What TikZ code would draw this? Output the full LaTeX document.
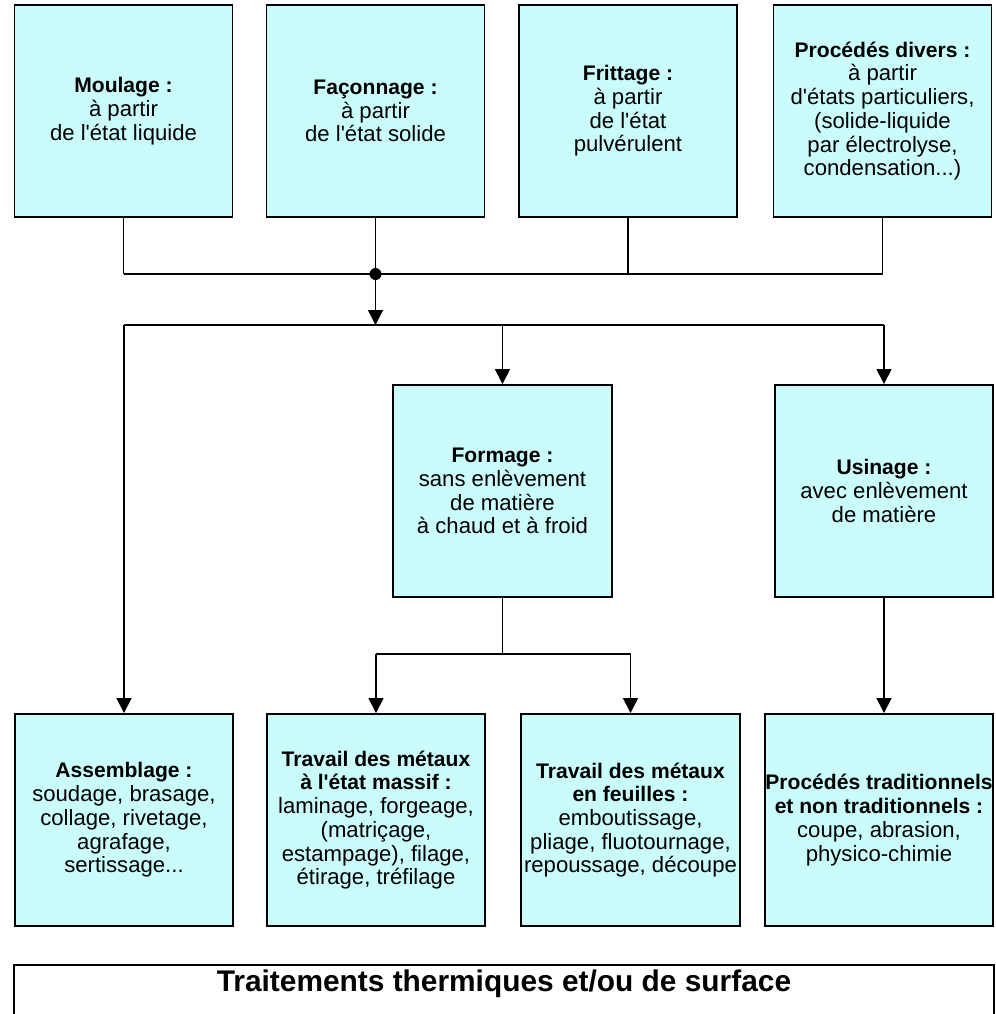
\documentclass[tikz,border=0pt]{standalone}
\usepackage{fontspec}
\setmainfont{Liberation Sans}[Ligatures=TeXOff]
\usetikzlibrary{arrows.meta}

\definecolor{boxcyan}{RGB}{202,252,252}
\newcommand\hd[1]{{\fontsize{12}{13.5}\selectfont\bfseries #1}}

\tikzset{
  procbox/.style={draw, line width=1.1pt, fill=boxcyan, align=center,
    minimum width=4.36cm, minimum height=4.24cm, inner sep=1pt,
    font=\fontsize{12.6}{13.5}\selectfont},
  link/.style={line width=0.8pt},
  arr/.style={link, -{Triangle[width=0.3cm, length=0.3cm]}}
}

\begin{document}
\begin{tikzpicture}[x=0.02cm, y=-0.02cm]
            \useasboundingbox (0,0) rectangle (996,1014);

            % Top row: starting states
            \node[procbox] (moul) at (123.5,111) {\hd{Moulage :}\\à partir\\de l'état liquide};
            \node[procbox] (faco) at (375.5,111) {\hd{Façonnage :}\\à partir\\de l'état solide};
            \node[procbox] (frit) at (628,111) {\hd{Frittage :}\\à partir\\de l'état\\pulvérulent};
            \node[procbox] (proc) at (882.5,111) {\hd{Procédés divers :}\\à partir\\d'états particuliers,\\(solide-liquide\\par électrolyse,\\condensation...)};

            % Middle row
            \node[procbox, minimum width=4.38cm] (form) at (502.5,491) {\hd{Formage :}\\sans enlèvement\\de matière\\à chaud et à froid};
            \node[procbox] (usin) at (884,491) {\hd{Usinage :}\\avec enlèvement\\de matière};

            % Bottom row
            \node[procbox] (assem) at (124,820) {\hd{Assemblage :}\\soudage, brasage,\\collage, rivetage,\\agrafage,\\sertissage...};
            \node[procbox] (mass) at (376,820) {\hd{Travail des métaux}\\\hd{à l'état massif :}\\laminage, forgeage,\\(matriçage,\\estampage), filage,\\étirage, tréfilage};
            \node[procbox, minimum width=4.38cm, inner sep=0pt] (feui) at (630.5,820) {\hd{Travail des métaux}\\\hd{en feuilles :}\\emboutissage,\\pliage, fluotournage,\\repoussage, découpe};
            \node[procbox, minimum width=4.56cm, inner sep=0pt] (trad) at (879,820) {\hd{Procédés traditionnels}\\\hd{et non traditionnels :}\\coupe, abrasion,\\physico-chimie};

            % Junctions
            \coordinate (dot) at (faco |- 0,274);
            \coordinate (split) at (faco |- 0,325);
            \coordinate (fsplit) at (form |- 0,654);

            % Collecting the top row
            \foreach \n in {moul,faco,frit,proc}
                \draw[link] (\n) -- (\n |- dot);
            \draw[link] (moul |- dot) -- (proc |- dot);
            \fill (dot) circle (0.12cm);
            \draw[arr] (dot) -- (split);

            % Distribution
            \draw[link] (assem |- split) -- (usin |- split);
            \draw[arr] (assem |- split) -- (assem);
            \draw[arr] (form |- split) -- (form);
            \draw[arr] (usin |- split) -- (usin);
            \draw[arr] (usin) -- (usin |- trad.north);
            \draw[link] (form) -- (fsplit);
            \draw[link] (mass |- fsplit) -- (feui |- fsplit);
            \draw[arr] (mass |- fsplit) -- (mass);
            \draw[arr] (feui |- fsplit) -- (feui);

            % Treatments (box runs off the page)
            \draw[line width=1.1pt] (14,1040) |- (994,965) -- (994,1040);
            \node[font=\fontsize{17}{18}\selectfont\bfseries] (trait) at (504,984) {Traitements thermiques et/ou de surface};
        \end{tikzpicture}
\end{document}
